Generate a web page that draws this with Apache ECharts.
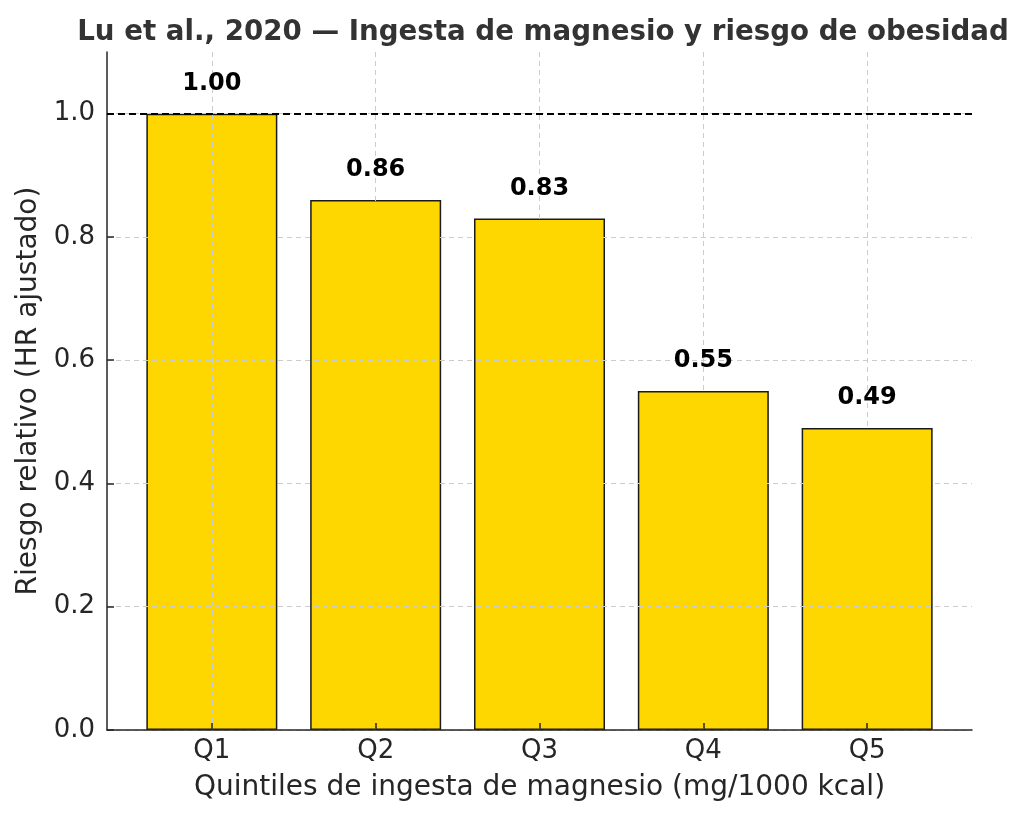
<!DOCTYPE html>
<html>
<head>
<meta charset="utf-8">
<script src="https://cdn.jsdelivr.net/npm/echarts@6/dist/echarts.min.js"></script>
<style>
  html, body { margin: 0; padding: 0; background: #fff; }
  #chart { width: 1024px; height: 820px; }
</style>
</head>
<body>
<div id="chart"></div>
<script>
// quintiles y riesgo relativo
var categories = ['Q1', 'Q2', 'Q3', 'Q4', 'Q5'];
var hrValues = [1.00, 0.86, 0.83, 0.55, 0.49];
var xTicks = [0, 1, 2, 3, 4];
var yTicks = [0, 0.2, 0.4, 0.6, 0.8, 1.0];
var refLine = 1.0;

var font = 'DejaVu Sans';
var chart = echarts.init(document.getElementById('chart'));

var barData = hrValues.map(function (v, i) { return [i, v]; });

var option = {
  backgroundColor: '#fff',
  animation: false,
  title: {
    text: 'Lu et al., 2020 — Ingesta de magnesio y riesgo de obesidad',
    left: 538,
    top: 14,
    textAlign: 'center',
    textStyle: { fontFamily: font, fontSize: 27.7, fontWeight: 'bold', color: '#333' }
  },
  grid: { left: 107, right: 52, top: 52, bottom: 90 },
  xAxis: {
    type: 'value',
    min: -0.64,
    max: 4.64,
    z: 3,
    name: 'Quintiles de ingesta de magnesio (mg/1000 kcal)',
    nameLocation: 'middle',
    nameGap: 44,
    nameTextStyle: { fontFamily: font, fontSize: 28, color: '#262626' },
    axisLine: { onZero: false, lineStyle: { color: '#262626', width: 1.5 } },
    axisTick: { customValues: xTicks, inside: true, length: 7, lineStyle: { color: '#262626', width: 1.5 } },
    axisLabel: {
      customValues: xTicks,
      margin: 8,
      fontFamily: font, fontSize: 26, color: '#262626',
      formatter: function (v) { return categories[Math.round(v)]; }
    },
    splitLine: { show: true, lineStyle: { color: '#cccccc', type: [5, 4], width: 1 } }
  },
  yAxis: {
    type: 'value',
    min: 0,
    max: 1.1,
    z: 3,
    name: 'Riesgo relativo (HR ajustado)',
    nameLocation: 'middle',
    nameGap: 63,
    nameTextStyle: { fontFamily: font, fontSize: 28, color: '#262626' },
    axisLine: { show: true, onZero: false, lineStyle: { color: '#262626', width: 1.5 } },
    axisTick: { show: true, customValues: yTicks, inside: true, length: 7, lineStyle: { color: '#262626', width: 1.5 } },
    axisLabel: {
      customValues: yTicks,
      margin: 12,
      fontFamily: font, fontSize: 26, color: '#262626',
      formatter: function (v) { return v.toFixed(1); }
    },
    splitLine: { show: true, lineStyle: { color: '#cccccc', type: [5, 4], width: 1 } }
  },
  series: [{
    type: 'bar',
    data: barData,
    barWidth: 131,
    z: 2,
    itemStyle: { color: '#FFD700', borderColor: '#1a1a1a', borderWidth: 1.5 },
    markLine: {
      silent: true,
      symbol: 'none',
      z: 5,
      label: { show: false },
      lineStyle: { color: '#000', type: [7, 4], width: 1.8 },
      data: [{ yAxis: refLine }]
    }
  }, {
    // etiquetas encima de la rejilla
    type: 'scatter',
    data: barData,
    symbolSize: 0,
    z: 6,
    silent: true,
    itemStyle: { color: '#000', opacity: 1 },
    label: {
      show: true,
      position: 'top',
      distance: 18,
      opacity: 1,
      textBorderWidth: 0,
      fontFamily: font, fontSize: 24, fontWeight: 'bold', color: '#000',
      formatter: function (p) { return p.value[1].toFixed(2); }
    }
  }]
};

chart.setOption(option);
</script>
</body>
</html>
